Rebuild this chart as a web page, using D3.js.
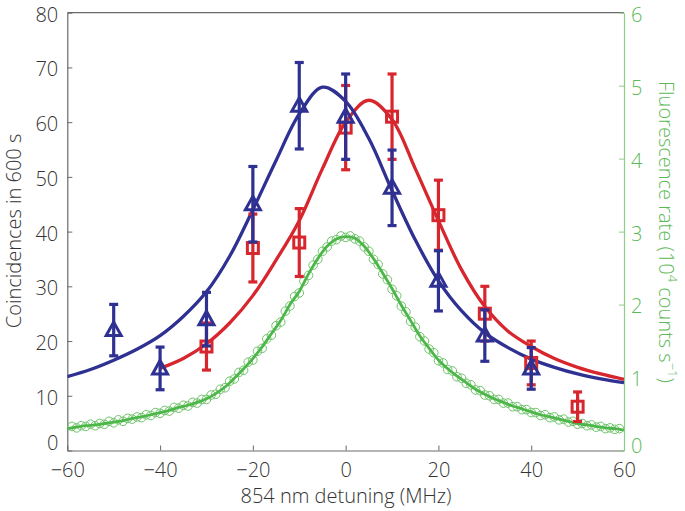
<!DOCTYPE html>
<html>
<head>
<meta charset="utf-8">
<script src="https://cdn.jsdelivr.net/npm/d3@7"></script>
<style>
  html, body { margin: 0; padding: 0; background: #fff; }
  svg { display: block; }
  text { font-family: "Open Sans", "Lato", sans-serif; }
</style>
</head>
<body>
<script>
// ---------- DATA ----------
const xTicks = [-60, -40, -20, 0, 20, 40, 60];
const yTicksLeft = [0, 10, 20, 30, 40, 50, 60, 70, 80];
const yTicksRight = [0, 1, 2, 3, 4, 5, 6];

// Blue triangles: detuning, coincidences, error
const blueX   = [-50, -40, -30, -20, -10, 0, 10, 20, 30, 40];
const blueY   = [22, 15, 24, 45, 63, 61, 48, 31, 21, 15];
const blueErr = [4.7, 3.9, 4.9, 6.9, 7.9, 7.8, 6.9, 5.5, 4.7, 3.8];

// Red squares
const redX   = [-30, -20, -10, 0, 10, 20, 30, 40, 50];
const redY   = [19, 37, 38, 59, 61, 43, 25, 16, 8];
const redErr = [4.3, 6.2, 6.2, 7.7, 7.8, 6.4, 5.0, 4.0, 2.7];

// Fit curves
const blueFitX = [-60, -55, -50, -45, -40, -35, -30, -25, -20, -15, -10, -5, 0, 5, 10, 15, 20, 25, 30, 35, 40, 45, 50, 55, 60];
const blueFitY = [13.5, 14.8, 16.5, 18.5, 21, 24.5, 29, 35.5, 44, 53, 61.5, 66.4, 63.8, 57, 47.5, 38.5, 31, 25.5, 21.5, 18.8, 16.7, 15.2, 14, 13.1, 12.4];

const redFitX = [-40, -35, -30, -25, -20, -15, -10, -5, 0, 5, 10, 15, 20, 25, 30, 35, 40, 45, 50, 55, 60];
const redFitY = [15, 16.8, 19.5, 23.3, 28.3, 34.8, 42, 51.5, 60, 64, 60.5, 51.5, 42, 33, 26.3, 21.8, 19, 16.8, 15.2, 14, 13];

// Fluorescence (right axis, 10^4 counts/s)
const fluoX = [-59,-58,-57,-56,-55,-54,-53,-52,-51,-50,-49,-48,-47,-46,-45,-44,-43,-42,-41,-40,
  -39,-38,-37,-36,-35,-34,-33,-32,-31,-30,-29,-28,-27,-26,-25,-24,-23,-22,-21,-20,
  -19,-18,-17,-16,-15,-14,-13,-12,-11,-10,-9,-8,-7,-6,-5,-4,-3,-2,-1,0,
  1,2,3,4,5,6,7,8,9,10,11,12,13,14,15,16,17,18,19,20,
  21,22,23,24,25,26,27,28,29,30,31,32,33,34,35,36,37,38,39,40,
  41,42,43,44,45,46,47,48,49,50,51,52,53,54,55,56,57,58,59];
const fluoY = [0.33,0.31,0.34,0.33,0.36,0.34,0.37,0.36,0.40,0.38,0.42,0.40,0.44,0.43,0.46,0.45,0.49,0.48,0.52,0.51,
  0.55,0.54,0.59,0.58,0.62,0.61,0.66,0.65,0.70,0.70,0.76,0.77,0.84,0.86,0.95,0.98,1.07,1.10,1.21,1.24,
  1.36,1.40,1.53,1.58,1.71,1.76,1.91,1.98,2.11,2.16,2.32,2.40,2.54,2.62,2.73,2.79,2.87,2.89,2.94,2.92,
  2.94,2.90,2.87,2.79,2.73,2.62,2.55,2.42,2.34,2.21,2.12,1.98,1.90,1.77,1.69,1.56,1.50,1.39,1.34,1.23,
  1.20,1.11,1.09,1.01,0.99,0.92,0.90,0.83,0.82,0.76,0.75,0.70,0.70,0.65,0.65,0.60,0.60,0.56,0.56,0.52,
  0.52,0.48,0.49,0.45,0.46,0.42,0.43,0.39,0.40,0.36,0.37,0.34,0.35,0.32,0.33,0.30,0.31,0.29,0.30];

const fluoFitX = [-60,-58,-56,-54,-52,-50,-48,-46,-44,-42,-40,-38,-36,-34,-32,-30,-28,-26,-24,-22,-20,
  -18,-16,-14,-12,-10,-8,-6,-4,-2,0,2,4,6,8,10,12,14,16,18,20,
  22,24,26,28,30,32,34,36,38,40,42,44,46,48,50,52,54,56,58,60];
const fluoFitY = [0.30,0.32,0.34,0.35,0.37,0.39,0.41,0.44,0.46,0.49,0.52,0.55,0.59,0.62,0.66,0.71,0.78,0.87,0.99,1.12,1.26,
  1.42,1.60,1.78,2.00,2.18,2.42,2.63,2.80,2.90,2.93,2.91,2.80,2.63,2.43,2.22,1.99,1.78,1.57,1.40,1.24,
  1.12,1.02,0.93,0.84,0.77,0.71,0.66,0.61,0.57,0.53,0.49,0.46,0.43,0.40,0.37,0.35,0.33,0.31,0.30,0.28];

// ---------- STYLE ----------
const W = 685, H = 511;
const X0 = 67.3, X1 = 624, Y0 = 450.5, Y1 = 12.7;
const BLUE = "#2e3192", RED = "#d7262e", GREEN = "#4cb748", GREEN_LIGHT = "#6fc36a";
const AXIS_GREEN = "#8ccf87", TEXT = "#333333", AXIS = "#6a6a6a", GTEXT = "#5db957";
const TICK_FS = "20px", TITLE_FS = "20px", FW = 300;

const svg = d3.select("body").append("svg").attr("width", W).attr("height", H);

const x = d3.scaleLinear().domain([-60, 60]).range([X0, X1]);
const y = d3.scaleLinear().domain([0, 80]).range([Y0, Y1]);
const y2 = d3.scaleLinear().domain([0, 6]).range([Y0, Y1]);

// frame top
svg.append("line").attr("x1", X0).attr("x2", X1).attr("y1", Y1).attr("y2", Y1)
  .attr("stroke", AXIS).attr("stroke-width", 1.2);

// left axis
const gL = svg.append("g").attr("transform", `translate(${X0},0)`)
  .call(d3.axisLeft(y).tickValues(yTicksLeft).tickSize(-5).tickSizeOuter(0).tickPadding(9).tickFormat(d3.format("d")));
// bottom axis
const gB = svg.append("g").attr("transform", `translate(0,${Y0})`)
  .call(d3.axisBottom(x).tickValues(xTicks).tickSize(-5).tickSizeOuter(0).tickPadding(10).tickFormat(d3.format("d")));
// right axis
const gR = svg.append("g").attr("transform", `translate(${X1},0)`)
  .call(d3.axisRight(y2).tickValues(yTicksRight).tickSize(-5).tickSizeOuter(0).tickPadding(7).tickFormat(d3.format("d")));

[gL, gB].forEach(g => {
  g.select(".domain").attr("stroke", AXIS).attr("stroke-width", 1.2);
  g.selectAll(".tick line").attr("stroke", AXIS).attr("stroke-width", 1);
  g.selectAll(".tick text").attr("fill", TEXT).style("font-size", TICK_FS).style("font-weight", FW);
});
gR.select(".domain").attr("stroke", AXIS_GREEN).attr("stroke-width", 1.2);
gR.selectAll(".tick line").attr("stroke", AXIS_GREEN);
gR.selectAll(".tick text").attr("fill", GTEXT).style("font-size", TICK_FS).style("font-weight", FW);
gL.selectAll(".tick text").attr("dy", "0.42em");
gR.selectAll(".tick text").attr("dy", "0.42em");
gL.selectAll(".tick text").filter(d => d === 0).attr("dy", "-0.05em");
gR.selectAll(".tick text").filter(d => d === 0).attr("dy", "0.1em");
gB.selectAll(".tick text").attr("dy", "0.8em");

// axis titles
svg.append("text").attr("x", 346).attr("y", 503).attr("text-anchor", "middle")
  .attr("fill", TEXT).style("font-size", TITLE_FS).style("font-weight", FW)
  .text("854 nm detuning (MHz)");
svg.append("text").attr("transform", `translate(21,231) rotate(-90)`).attr("text-anchor", "middle")
  .attr("fill", TEXT).style("font-size", TITLE_FS).style("font-weight", FW)
  .text("Coincidences in 600 s");
const rt = svg.append("text").attr("transform", `translate(659,232) rotate(90)`).attr("text-anchor", "middle")
  .attr("fill", GTEXT).style("font-size", TITLE_FS).style("font-weight", FW);
rt.append("tspan").text("Fluorescence rate (10");
rt.append("tspan").attr("baseline-shift", "super").style("font-size", "13px").text("4");
rt.append("tspan").text(" counts s");
rt.append("tspan").attr("baseline-shift", "super").style("font-size", "13px").text("\u22121");
rt.append("tspan").text(")");

// clip
svg.append("clipPath").attr("id", "clip").append("rect")
  .attr("x", X0).attr("y", Y1).attr("width", X1 - X0).attr("height", Y0 - Y1);
const plot = svg.append("g").attr("clip-path", "url(#clip)");

// fluorescence circles
plot.append("g").selectAll("circle").data(fluoX.map((d, i) => [d, fluoY[i]])).join("circle")
  .attr("cx", d => x(d[0])).attr("cy", d => y2(d[1])).attr("r", 4.3)
  .attr("fill", "none").attr("stroke", GREEN_LIGHT).attr("stroke-width", 1);

const line = (sy) => d3.line().x(d => x(d[0])).y(d => sy(d[1])).curve(d3.curveCatmullRom.alpha(0.5));

plot.append("path").datum(fluoFitX.map((d, i) => [d, fluoFitY[i]]))
  .attr("d", line(y2)).attr("fill", "none").attr("stroke", GREEN).attr("stroke-width", 2.8);

plot.append("path").datum(redFitX.map((d, i) => [d, redFitY[i]]))
  .attr("d", line(y)).attr("fill", "none").attr("stroke", RED).attr("stroke-width", 3.3);
plot.append("path").datum(blueFitX.map((d, i) => [d, blueFitY[i]]))
  .attr("d", line(y)).attr("fill", "none").attr("stroke", BLUE).attr("stroke-width", 3.3);

// error bars + markers
function errorBars(xs, ys, es, color) {
  const g = svg.append("g").attr("stroke", color).attr("stroke-width", 3.2).attr("fill", "none");
  xs.forEach((xv, i) => {
    const cx = x(xv), top = y(ys[i] + es[i]), bot = y(ys[i] - es[i]);
    g.append("line").attr("x1", cx).attr("x2", cx).attr("y1", top).attr("y2", bot);
    g.append("line").attr("x1", cx - 4.5).attr("x2", cx + 4.5).attr("y1", top).attr("y2", top);
    g.append("line").attr("x1", cx - 4.5).attr("x2", cx + 4.5).attr("y1", bot).attr("y2", bot);
  });
  return g;
}
const gRed = errorBars(redX, redY, redErr, RED);
gRed.selectAll("rect.m").data(redX.map((d, i) => [d, redY[i]])).join("rect").attr("class", "m")
  .attr("x", d => x(d[0]) - 5.5).attr("y", d => y(d[1]) - 5.5).attr("width", 11).attr("height", 11)
  .attr("stroke-width", 3);

const gBlue = errorBars(blueX, blueY, blueErr, BLUE);
gBlue.selectAll("path.m").data(blueX.map((d, i) => [d, blueY[i]])).join("path").attr("class", "m")
  .attr("d", d => {
    const cx = x(d[0]), cy = y(d[1]);
    return `M${cx},${cy - 8}L${cx + 7.5},${cy + 5.5}L${cx - 7.5},${cy + 5.5}Z`;
  })
  .attr("stroke-width", 3).attr("stroke-linejoin", "miter");
</script>
</body>
</html>
